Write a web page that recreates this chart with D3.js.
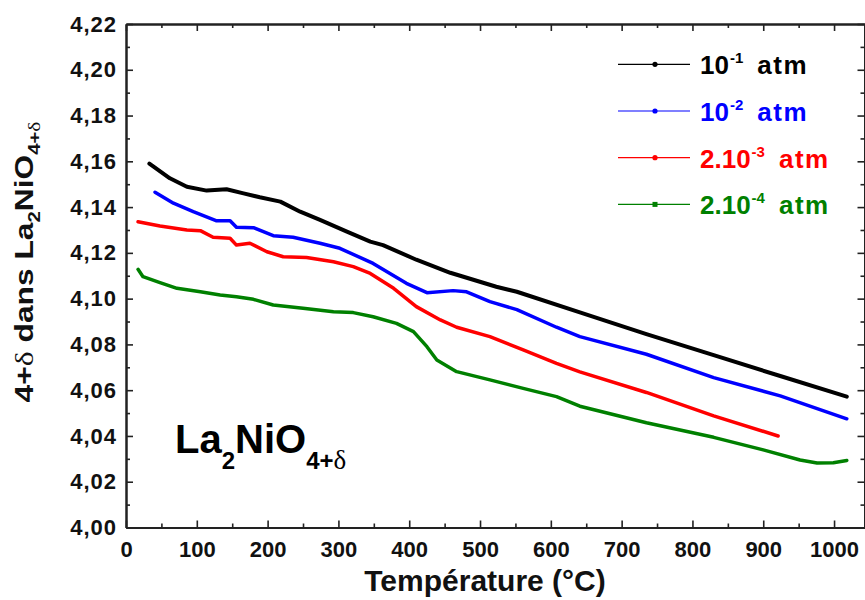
<!DOCTYPE html>
<html><head><meta charset="utf-8">
<script src="https://cdn.jsdelivr.net/npm/d3@7"></script>
<style>
body{margin:0;background:#fff}
svg{display:block}
text{font-family:"Liberation Sans",Arial,sans-serif;font-weight:bold}
</style>
</head><body>
<svg id="c" width="865" height="600"></svg>
<script>
// ---- data ----
const seriesNames = ["10", "10", "2.10", "2.10"];
const seriesExp = ["-1", "-2", "-3", "-4"];
const seriesColors = ["#000000", "#0000ff", "#ff0000", "#008000"];

const tempA = [33, 62, 86, 114, 142, 166, 189, 218, 246, 274, 312, 345, 363, 410, 458, 523, 552, 641, 735, 830, 924, 1018];
const valA  = [4.159, 4.1526, 4.1489, 4.1472, 4.1478, 4.1460, 4.1443, 4.1424, 4.1380, 4.1344, 4.1293, 4.1249, 4.1234, 4.117, 4.1113, 4.1052, 4.1030, 4.094, 4.0845, 4.0753, 4.0662, 4.0572];

const tempB = [41, 67, 95, 128, 147, 156, 180, 208, 236, 274, 302, 349, 396, 425, 462, 481, 514, 552, 608, 641, 735, 830, 924, 1018];
const valB  = [4.1465, 4.1417, 4.138, 4.134, 4.134, 4.1312, 4.131, 4.1275, 4.1268, 4.1242, 4.122, 4.1154, 4.1067, 4.1026, 4.1035, 4.103, 4.0987, 4.0952, 4.0875, 4.0834, 4.0757, 4.0655, 4.0575, 4.0475];

const tempC = [17, 48, 86, 105, 123, 147, 156, 175, 199, 222, 255, 293, 321, 345, 378, 410, 444, 467, 514, 561, 608, 641, 735, 830, 921];
const valC  = [4.1336, 4.1317, 4.13, 4.1297, 4.1268, 4.1264, 4.1234, 4.1242, 4.1205, 4.1183, 4.118, 4.1161, 4.114, 4.111, 4.1045, 4.0965, 4.0907, 4.0875, 4.0834, 4.0776, 4.0717, 4.068, 4.059, 4.0488, 4.04];

const tempD = [17, 24, 48, 72, 105, 133, 156, 180, 208, 250, 293, 321, 349, 382, 406, 425, 439, 467, 514, 561, 608, 641, 735, 830, 900, 952, 976, 999, 1018];
const valD  = [4.1128, 4.1096, 4.107, 4.1045, 4.103, 4.1016, 4.1008, 4.0997, 4.0972, 4.0958, 4.0943, 4.0939, 4.0921, 4.0892, 4.0856, 4.079, 4.0732, 4.0681, 4.0645, 4.0608, 4.0572, 4.053, 4.0458, 4.0394, 4.0339, 4.0295, 4.0282, 4.0283, 4.0293];

const xMajor = [0, 100, 200, 300, 400, 500, 600, 700, 800, 900, 1000];
const xMinor = [50, 150, 250, 350, 450, 550, 650, 750, 850, 950, 1050];
const yMajor = [4.00, 4.02, 4.04, 4.06, 4.08, 4.10, 4.12, 4.14, 4.16, 4.18, 4.20, 4.22];
const yMinor = [4.01, 4.03, 4.05, 4.07, 4.09, 4.11, 4.13, 4.15, 4.17, 4.19, 4.21];

// ---- layout ----
const svg = d3.select("#c");
const L = 126, R = 864.5, T = 24, B = 527.5;
const x = d3.scaleLinear().domain([0, 1043]).range([L, R]);
const y = d3.scaleLinear().domain([4.00, 4.22]).range([B, T]);
const axisColor = "#222";

const series = [
  {t: tempA, v: valA}, {t: tempB, v: valB}, {t: tempC, v: valC}, {t: tempD, v: valD}
];

// curves
const line = d3.line().x(d => x(d[0])).y(d => y(d[1]));
series.forEach((s, i) => {
  const pts = s.t.map((t, k) => [t, s.v[k]]);
  svg.append("path").datum(pts)
    .attr("d", line)
    .attr("fill", "none")
    .attr("stroke", seriesColors[i])
    .attr("stroke-width", i === 0 ? 4 : 3.5)
    .attr("stroke-linejoin", "round")
    .attr("stroke-linecap", "round");
});

// axes
function styleAxis(g) {
  g.selectAll("path.domain").attr("stroke", axisColor).attr("stroke-width", 2);
  g.selectAll(".tick line").attr("stroke", axisColor).attr("stroke-width", 1.6);
}
const fmtY = v => d3.format(".2f")(v).replace(".", ",");
const fmtX = d3.format("d");

// minor ticks first
const minorX = xMinor.filter(v => v <= 1043);
svg.append("g").attr("transform", `translate(0,${B})`)
  .call(d3.axisBottom(x).tickValues(minorX).tickSize(-4).tickSizeOuter(0).tickFormat(""))
  .call(styleAxis);
svg.append("g").attr("transform", `translate(0,${T})`)
  .call(d3.axisTop(x).tickValues(minorX).tickSize(-4).tickSizeOuter(0).tickFormat(""))
  .call(styleAxis);
svg.append("g").attr("transform", `translate(${L},0)`)
  .call(d3.axisLeft(y).tickValues(yMinor).tickSize(-4).tickSizeOuter(0).tickFormat(""))
  .call(styleAxis);
svg.append("g").attr("transform", `translate(${R},0)`)
  .call(d3.axisRight(y).tickValues(yMinor).tickSize(-4).tickSizeOuter(0).tickFormat(""))
  .call(styleAxis);

// major
const gx = svg.append("g").attr("transform", `translate(0,${B})`)
  .call(d3.axisBottom(x).tickValues(xMajor).tickSize(-7).tickSizeOuter(0).tickPadding(14).tickFormat(fmtX))
  .call(styleAxis);
gx.selectAll(".tick text").attr("font-size", 22).attr("fill", "#111")
  .attr("font-family", "'Liberation Sans',Arial,sans-serif").attr("font-weight", "bold");

svg.append("g").attr("transform", `translate(0,${T})`)
  .call(d3.axisTop(x).tickValues(xMajor).tickSize(-7).tickSizeOuter(0).tickFormat(""))
  .call(styleAxis);

const gy = svg.append("g").attr("transform", `translate(${L},0)`)
  .call(d3.axisLeft(y).tickValues(yMajor).tickSize(-7).tickSizeOuter(0).tickPadding(9).tickFormat(fmtY))
  .call(styleAxis);
gy.selectAll(".tick text").attr("font-size", 22).attr("fill", "#111")
  .attr("letter-spacing", "1px")
  .attr("font-family", "'Liberation Sans',Arial,sans-serif").attr("font-weight", "bold");

svg.append("g").attr("transform", `translate(${R},0)`)
  .call(d3.axisRight(y).tickValues(yMajor).tickSize(-7).tickSizeOuter(0).tickFormat(""))
  .call(styleAxis);

// x title
svg.append("text").attr("x", 485).attr("y", 591).attr("text-anchor", "middle")
  .attr("font-size", 30).attr("fill", "#111").text("Température (°C)");

// y title
const yt = svg.append("text")
  .attr("transform", "translate(33,262) rotate(-90) scale(1.27,1)")
  .attr("text-anchor", "middle").attr("font-size", 25).attr("fill", "#111");
yt.append("tspan").text("4+");
yt.append("tspan").attr("font-family", "'Liberation Serif',serif").attr("font-weight", "normal").text("δ");
yt.append("tspan").text(" dans La");
yt.append("tspan").attr("font-size", 16).attr("dy", 7).text("2");
yt.append("tspan").attr("dy", -7).text("NiO");
yt.append("tspan").attr("font-size", 16).attr("dy", 7).text("4+");
yt.append("tspan").attr("font-size", 17).attr("dy", 0).attr("font-family", "'Liberation Serif',serif").attr("font-weight", "normal").text("δ");

// annotation
const an = svg.append("text").attr("x", 175).attr("y", 453).attr("font-size", 40).attr("fill", "#000");
an.append("tspan").text("La");
an.append("tspan").attr("font-size", 24).attr("dy", 16).text("2");
an.append("tspan").attr("dy", -16).text("NiO");
an.append("tspan").attr("font-size", 24).attr("dy", 16).text("4+");
an.append("tspan").attr("font-size", 27).attr("font-family", "'Liberation Serif',serif").attr("font-weight", "normal").text("δ");

// legend
const legY0 = 64.3, legDY = 46.7;
seriesNames.forEach((nm, i) => {
  const cy = legY0 + i * legDY;
  const c = seriesColors[i];
  svg.append("line").attr("x1", 618).attr("x2", 690).attr("y1", cy).attr("y2", cy)
    .attr("stroke", c).attr("stroke-width", 1.2);
  if (i === 3) {
    svg.append("rect").attr("x", 652.5).attr("y", cy - 2.5).attr("width", 5).attr("height", 5).attr("fill", c);
  } else {
    svg.append("circle").attr("cx", 655).attr("cy", cy).attr("r", 2.6).attr("fill", c);
  }
  const t = svg.append("text").attr("x", 700).attr("y", cy + 10).attr("font-size", 26).attr("fill", c);
  t.append("tspan").text(nm);
  t.append("tspan").attr("font-size", 15).attr("dy", -11).attr("dx", 1).text(seriesExp[i]);
  t.append("tspan").attr("dy", 11).attr("dx", 14).attr("letter-spacing", "1.5px").text("atm");
});
</script>
</body></html>
